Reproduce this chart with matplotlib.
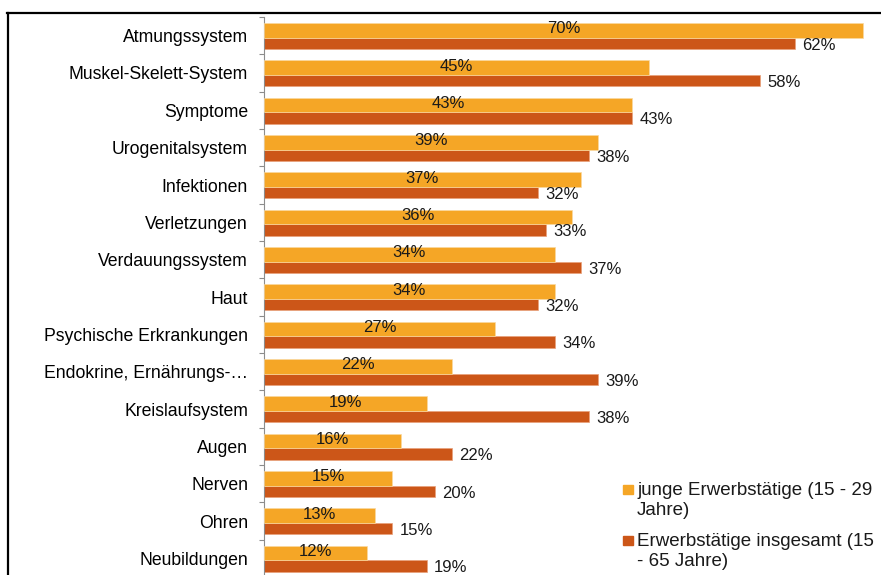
#!/usr/bin/env python3
"""
Horizontal grouped bar chart: diagnosis groups, young vs all employees.
"""

import matplotlib
matplotlib.use("Agg")
import matplotlib.pyplot as plt
from matplotlib.patches import Rectangle
from matplotlib.lines import Line2D
import numpy as np

plt.rcParams["font.family"] = ["Liberation Sans", "DejaVu Sans"]

categories = [
    "Atmungssystem", "Muskel-Skelett-System", "Symptome", "Urogenitalsystem",
    "Infektionen", "Verletzungen", "Verdauungssystem", "Haut",
    "Psychische Erkrankungen", "Endokrine, Ernährungs-…", "Kreislaufsystem",
    "Augen", "Nerven", "Ohren", "Neubildungen",
]
young = [70, 45, 43, 39, 37, 36, 34, 34, 27, 22, 19, 16, 15, 13, 12]
total = [62, 58, 43, 38, 32, 33, 37, 32, 34, 39, 38, 22, 20, 15, 19]

label_young = "junge Erwerbstätige (15 - 29\nJahre)"
label_total = "Erwerbstätige insgesamt (15\n- 65 Jahre)"

C_YOUNG = "#F5A626"
C_TOTAL = "#CC5618"

W, H = 881, 575
fig = plt.figure(figsize=(W / 100, H / 100), dpi=100)

# outer chart border (cut at right and bottom like the screenshot)
fig.add_artist(Line2D([7 / W, 1.0], [1 - 12.5 / H] * 2, color="black", lw=1.6,
                      transform=fig.transFigure))
fig.add_artist(Line2D([7.5 / W] * 2, [0.0, 1 - 12.5 / H], color="black", lw=1.6,
                      transform=fig.transFigure))

ax_top = 17 / H
ax_bot = 577 / H
ax = fig.add_axes([264 / W, 1 - ax_bot, 1 - 264 / W, ax_bot - ax_top])

y = np.arange(len(categories))
h_young, h_total = 0.39, 0.31
split = 0.05
ax.barh(y + split, total, height=h_total, align="edge", color=C_TOTAL,
        edgecolor="#E8A07A", linewidth=0.5, zorder=2)
ax.barh(y + split, young, height=-h_young, align="edge", color=C_YOUNG,
        edgecolor="#FAD9A0", linewidth=0.5, zorder=3)

for yi, v in zip(y, young):
    ax.text(v / 2, yi + split - h_young / 2 - 0.04, f"{v}%", ha="center", va="center",
            fontsize=12, color="#1a1a1a", zorder=4)
for yi, v in zip(y, total):
    ax.text(v + 0.85, yi + split + h_total / 2 + 0.05, f"{v}%", ha="left", va="center",
            fontsize=12, color="#1a1a1a", zorder=4)

ax.set_xlim(0, 72.1)
ax.set_ylim(len(categories) - 0.5, -0.5)
ax.set_yticks(y)
ax.set_yticklabels(categories, fontsize=12.7)
ax.tick_params(axis="y", which="major", length=0, pad=11.5)
ax.set_yticks(np.arange(-0.5, len(categories), 1.0), minor=True)
ax.tick_params(axis="y", which="minor", length=3.6, color="#8c8c8c", width=0.8)
ax.set_xticks([])
for s in ["top", "right", "bottom"]:
    ax.spines[s].set_visible(False)
ax.spines["left"].set_color("#8c8c8c")
ax.spines["left"].set_linewidth(0.8)

# legend drawn by hand so the squares line up with the first text line
for (lab, col, ytop) in [(label_young, C_YOUNG, 482), (label_total, C_TOTAL, 533)]:
    fig.add_artist(Rectangle((623 / W, 1 - (ytop + 12) / H), 10 / W, 9 / H,
                             color=col, transform=fig.transFigure))
    fig.text(637 / W, 1 - ytop / H, lab, ha="left", va="top", fontsize=13.5,
             linespacing=1.22, color="#1a1a1a")

fig.savefig("out.png", dpi=100)
